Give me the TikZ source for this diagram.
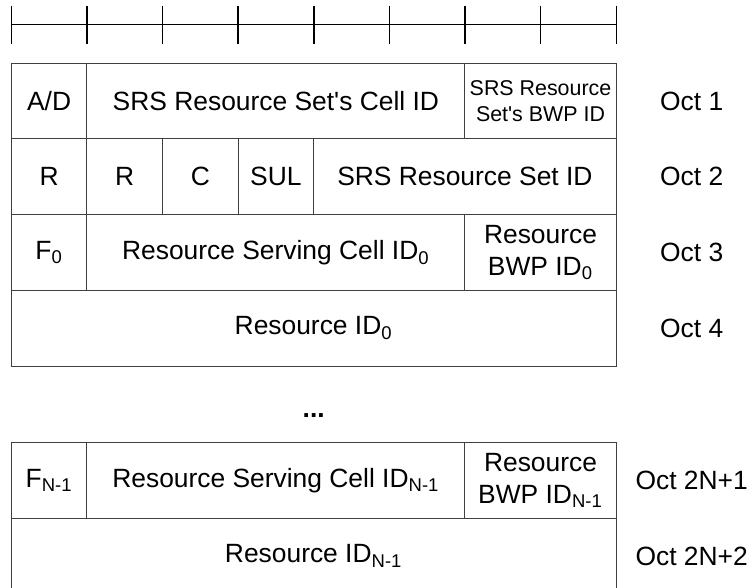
\documentclass[tikz,border=0pt]{standalone}
\usepackage{fontspec}
\setmainfont{Liberation Sans}
\usetikzlibrary{positioning}

\newcommand{\colw}{37.8pt}
\newcommand{\rowh}{37.85pt}

\begin{document}
\begin{tikzpicture}[
    x=0.5pt, y=-0.5pt,
    node distance=0pt,
    cell/.style={draw=black!75, line width=0.5pt, minimum height=\rowh, inner sep=0pt, outer sep=0pt, align=center, font=\fontsize{13.2}{16}\selectfont},
    span/.style={cell, minimum width=#1*\colw},
    small/.style={font=\fontsize{10.7}{13}\selectfont},
    octlbl/.style={font=\fontsize{13.2}{16}\selectfont},
    ruler/.style={line width=0.5pt},
    tick/.style={line width=0.7pt},
]
\useasboundingbox (0,0) rectangle (749,588);
\clip (0,0) rectangle (749,588);

% bit ruler
\draw[ruler] (11.3,25) -- (616.3,25);
\foreach \i in {0,...,8}
  \draw[tick] (11.3+75.625*\i,6) -- (11.3+75.625*\i,44);

% Oct 1
\node[span=1, anchor=north west] (ad) at (11.3,63.3) {A/D};
\node[span=5, right=of ad] (cellid) {SRS Resource Set\textquotesingle s Cell ID};
\node[span=2, right=of cellid, small] (setbwp) {SRS Resource\\Set\textquotesingle s BWP ID};

% Oct 2
\node[span=1, below=of ad.south west, anchor=north west] (r1) {R};
\node[span=1, right=of r1] (r2) {R};
\node[span=1, right=of r2] (cbit) {C};
\node[span=1, right=of cbit] (sul) {SUL};
\node[span=4, right=of sul] (setid) {SRS Resource Set ID};

% Oct 3
\node[span=1, below=of r1.south west, anchor=north west] (f0) {F\textsubscript{0}};
\node[span=5, right=of f0] (servcell0) {Resource Serving Cell ID\textsubscript{0}};
\node[span=2, right=of servcell0] (resbwp0) {Resource\\BWP ID\textsubscript{0}};

% Oct 4
\node[span=8, below=of f0.south west, anchor=north west] (resid0) {Resource ID\textsubscript{0}};

\node[inner sep=0pt, font=\fontsize{13.2}{16}\selectfont\bfseries, below=23.5pt of resid0] (dots) {...};

% Oct 2N+1
\node[span=1, below=38.15pt of resid0.south west, anchor=north west] (fn) {F\textsubscript{N-1}};
\node[span=5, right=of fn] (servcelln) {Resource Serving Cell ID\textsubscript{N-1}};
\node[span=2, right=of servcelln] (resbwpn) {Resource\\BWP ID\textsubscript{N-1}};

% Oct 2N+2
\node[span=8, below=of fn.south west, anchor=north west] (residn) {Resource ID\textsubscript{N-1}};

% octet labels
\node[octlbl] (oct1) at ([xshift=37.8pt]setbwp.east) {Oct 1};
\node[octlbl] (oct2) at ([xshift=37.8pt]setid.east) {Oct 2};
\node[octlbl] (oct3) at ([xshift=37.8pt]resbwp0.east) {Oct 3};
\node[octlbl] (oct4) at ([xshift=37.8pt]resid0.east) {Oct 4};
\node[octlbl] (octa) at ([xshift=37.8pt]resbwpn.east) {Oct 2N+1};
\node[octlbl] (octb) at ([xshift=37.8pt]residn.east) {Oct 2N+2};
\end{tikzpicture}
\end{document}
